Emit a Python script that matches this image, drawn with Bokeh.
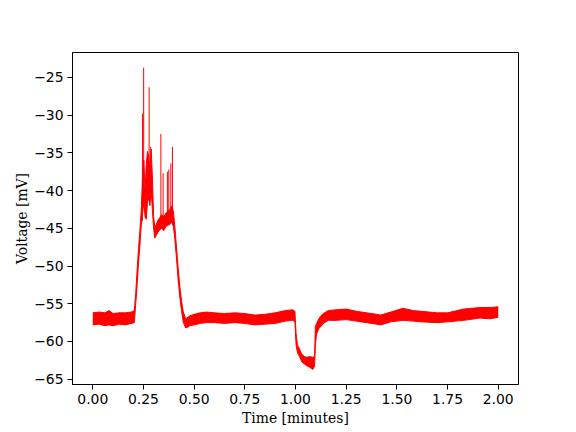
from bokeh.plotting import figure
from bokeh.models import Range1d, FixedTicker
from bokeh.embed import file_html
from bokeh.resources import INLINE

# ---- data (envelope of the noisy trace) ----
env_t = [0.00, 0.03, 0.06, 0.08, 0.10, 0.13, 0.16, 0.19, 0.205, 0.212, 0.220, 0.226, 0.232, 0.238,
         0.240, 0.246, 0.252, 0.258, 0.264, 0.270, 0.276, 0.282, 0.288, 0.294, 0.300, 0.306, 0.312,
         0.320, 0.330, 0.340, 0.350, 0.360, 0.370, 0.380, 0.390, 0.398, 0.405, 0.413, 0.421, 0.430,
         0.438, 0.446, 0.458, 0.469, 0.479, 0.50, 0.53, 0.56, 0.60, 0.65, 0.70, 0.75, 0.80, 0.85,
         0.90, 0.95, 0.985, 0.997, 1.003, 1.010, 1.020, 1.031, 1.045, 1.055, 1.070, 1.085, 1.094,
         1.098, 1.104, 1.115, 1.125, 1.137, 1.162, 1.20, 1.25, 1.30, 1.35, 1.40, 1.42, 1.47, 1.53,
         1.58, 1.62, 1.70, 1.75, 1.83, 1.91, 1.96, 2.00]
env_lo = [-57.8, -57.7, -57.9, -57.8, -57.9, -57.7, -57.8, -57.6, -57.5, -55.0, -52.0, -49.5, -47.5, -45.0,
          -44.5, -43.0, -41.5, -43.5, -43.8, -41.5, -41.0, -42.0, -40.0, -42.5, -45.0, -46.3, -46.0,
          -45.6, -45.2, -45.0, -45.3, -44.8, -44.6, -44.5, -44.2, -44.8, -46.5, -49.0, -51.8, -54.3,
          -56.0, -57.4, -58.2, -58.1, -57.9, -57.8, -57.6, -57.5, -57.5, -57.6, -57.5, -57.6, -57.8, -57.7,
          -57.6, -57.3, -57.2, -57.4, -60.5, -61.5, -62.0, -62.7, -63.0, -63.2, -63.4, -63.7, -63.3,
          -60.5, -59.0, -58.3, -58.0, -57.6, -57.2, -57.2, -57.1, -57.3, -57.5, -57.7, -57.8, -57.4, -57.2,
          -57.3, -57.4, -57.5, -57.4, -57.2, -56.9, -57.0, -56.8]
env_hi = [-56.2, -56.1, -56.2, -55.9, -56.3, -56.2, -56.2, -56.1, -55.9, -53.5, -50.0, -47.5, -45.5, -43.0,
          -42.0, -38.0, -36.0, -40.0, -36.5, -34.8, -35.5, -37.5, -34.5, -38.0, -43.5, -44.8, -44.6,
          -44.0, -43.6, -43.2, -43.5, -43.0, -42.8, -42.5, -42.0, -42.8, -44.8, -47.5, -50.2, -52.8,
          -54.6, -56.0, -57.0, -56.8, -56.6, -56.4, -56.2, -56.1, -56.2, -56.3, -56.2, -56.3, -56.5, -56.4,
          -56.2, -55.9, -55.8, -56.0, -59.0, -60.5, -61.0, -61.7, -62.0, -62.1, -62.0, -62.1, -62.0,
          -58.0, -57.6, -57.0, -56.6, -56.3, -55.9, -55.8, -55.7, -56.0, -56.2, -56.4, -56.5, -56.1, -55.6,
          -55.9, -56.0, -56.2, -56.2, -55.7, -55.5, -55.5, -55.4]

# spikes (time, base voltage, peak voltage)
spk_t = [0.245, 0.251, 0.278, 0.286, 0.336, 0.347, 0.368, 0.375, 0.385, 0.393]
spk_base = [-44.0, -42.0, -40.0, -41.0, -44.0, -44.0, -43.5, -43.5, -43.0, -43.0]
spk_top = [-29.8, -23.7, -26.3, -34.2, -32.5, -37.7, -37.5, -37.2, -36.4, -34.2]

x_ticks = [0.0, 0.25, 0.5, 0.75, 1.0, 1.25, 1.5, 1.75, 2.0]
x_labels = ["0.00", "0.25", "0.50", "0.75", "1.00", "1.25", "1.50", "1.75", "2.00"]
y_ticks = [-65, -60, -55, -50, -45, -40, -35, -30, -25]
y_labels = ["\u221265", "\u221260", "\u221255", "\u221250", "\u221245", "\u221240", "\u221235", "\u221230", "\u221225"]

# ---- ranges with 5% margins like matplotlib ----
tmin, tmax = min(env_t), max(env_t)
vmin = min(env_lo)
vmax = max(max(env_hi), max(spk_top))
tspan = tmax - tmin
vspan = vmax - vmin

p = figure(width=576, height=432, output_backend="svg", toolbar_location=None,
           x_range=Range1d(tmin - 0.05 * tspan, tmax + 0.05 * tspan),
           y_range=Range1d(vmin - 0.05 * vspan, vmax + 0.05 * vspan),
           min_border_left=72, min_border_right=58, min_border_top=52, min_border_bottom=48)

p.background_fill_color = "white"
p.border_fill_color = "white"
p.outline_line_color = "black"
p.outline_line_alpha = 1.0
p.outline_line_width = 1
p.grid.visible = False

p.varea(x=env_t, y1=env_lo, y2=env_hi, fill_color="#ff0000", fill_alpha=1.0)
p.line(x=env_t, y=env_lo, line_color="#ff0000", line_width=1)
p.line(x=env_t, y=env_hi, line_color="#ff0000", line_width=1)
p.segment(x0=spk_t, y0=spk_base, x1=spk_t, y1=spk_top, line_color="#ff0000", line_width=1)

p.xaxis.ticker = FixedTicker(ticks=x_ticks)
p.xaxis.major_label_overrides = {t: l for t, l in zip(x_ticks, x_labels)}
p.yaxis.ticker = FixedTicker(ticks=y_ticks)
p.yaxis.major_label_overrides = {t: l for t, l in zip(y_ticks, y_labels)}

for ax in (p.xaxis, p.yaxis):
    ax.axis_line_color = "black"
    ax.major_tick_line_color = "black"
    ax.major_tick_out = 5
    ax.major_tick_in = 0
    ax.minor_tick_line_color = None
    ax.major_label_text_font = "DejaVu Sans"
    ax.major_label_text_font_size = "13.9px"
    ax.major_label_text_color = "black"
    ax.major_label_standoff = 4
    ax.axis_label_text_font = "DejaVu Serif"
    ax.axis_label_text_font_size = "13.9px"
    ax.axis_label_text_font_style = "normal"
    ax.axis_label_text_color = "black"

p.xaxis.axis_label_standoff = 3
p.yaxis.axis_label_standoff = 1
p.xaxis.axis_label = "Time [minutes]"
p.yaxis.axis_label = "Voltage [mV]"

open("out.html", "w").write(file_html(p, INLINE))
